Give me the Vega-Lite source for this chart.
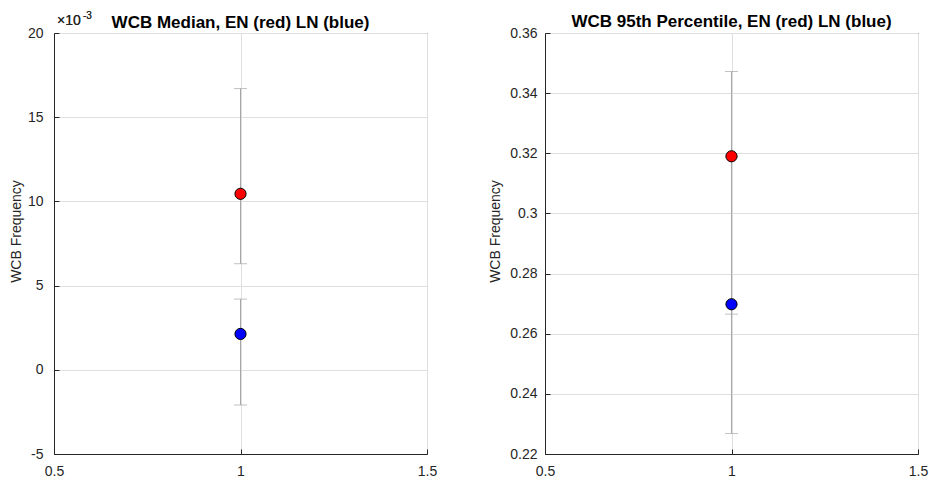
{
  "$schema": "https://vega.github.io/schema/vega-lite/v6.json",
  "background": "white",
  "padding": {"left": 8, "top": 10, "right": 10, "bottom": 0},
  "bounds": "flush",
  "spacing": 118,
  "config": {
    "font": "Liberation Sans",
    "view": {"stroke": "#262626", "strokeWidth": 1},
    "axis": {
      "domainColor": "#262626",
      "tickColor": "#262626",
      "labelColor": "#262626",
      "titleColor": "#262626",
      "labelFont": "Liberation Sans",
      "titleFont": "Liberation Sans",
      "labelFontSize": 14,
      "titleFontSize": 14,
      "titleFontWeight": "normal",
      "gridColor": "#dfdfdf",
      "gridWidth": 1,
      "tickSize": -5,
      "labelPadding": 15
    },
    "title": {"font": "Liberation Sans", "fontSize": 17, "fontWeight": "bold", "color": "#000000"}
  },
  "datasets": {
    "median": [
      {"group": "EN", "value": 0.01045, "lo": 0.0063, "hi": 0.0167},
      {"group": "LN", "value": 0.00213, "lo": -0.00209, "hi": 0.0042}
    ],
    "p95": [
      {"group": "EN", "value": 0.3190, "lo": 0.2665, "hi": 0.3472},
      {"group": "LN", "value": 0.2698, "lo": 0.2268, "hi": 0.3188}
    ]
  },
  "hconcat": [
    {
      "width": 373,
      "height": 421,
      "title": {"text": "WCB Median, EN (red) LN (blue)", "offset": -21},
      "data": {"name": "median"},
      "encoding": {
        "x": {"datum": 1, "type": "quantitative",
          "scale": {"domain": [0.5, 1.5], "nice": false, "zero": false},
          "axis": {"title": null, "values": [0.5, 1, 1.5], "labelExpr": "'' + datum.value", "labelFlush": false, "grid": true}}
      },
      "layer": [
        {
          "mark": {"type": "rule", "color": "#a6a6a6", "strokeWidth": 1},
          "encoding": {
            "y": {"field": "lo", "type": "quantitative",
              "scale": {"domain": [-0.005, 0.02], "nice": false, "zero": false},
              "axis": {"title": "WCB Frequency", "values": [-0.005, 0, 0.005, 0.01, 0.015, 0.02],
                "labelExpr": "'' + round(datum.value*1000)", "titlePadding": 4, "labelPadding": 16, "titleY": 198, "grid": true}},
            "y2": {"field": "hi"}
          }
        },
        {
          "mark": {"type": "tick", "orient": "horizontal", "color": "#a6a6a6", "size": 13, "thickness": 1},
          "encoding": {"y": {"field": "lo", "type": "quantitative", "title": "WCB Frequency"}}
        },
        {
          "mark": {"type": "tick", "orient": "horizontal", "color": "#a6a6a6", "size": 13, "thickness": 1},
          "encoding": {"y": {"field": "hi", "type": "quantitative", "title": "WCB Frequency"}}
        },
        {
          "mark": {"type": "point", "shape": "circle", "filled": true, "size": 125, "stroke": "#000000", "strokeWidth": 1, "opacity": 1},
          "encoding": {
            "y": {"field": "value", "type": "quantitative", "title": "WCB Frequency"},
            "fill": {"field": "group", "type": "nominal", "scale": {"domain": ["EN", "LN"], "range": ["#ff0000", "#0000ff"]}, "legend": null}
          }
        },
        {
          "mark": {"type": "text", "text": "×10", "align": "left", "baseline": "alphabetic", "dx": 3, "dy": -8, "fontSize": 14, "color": "#262626"},
          "encoding": {"x": {"datum": 0.5, "type": "quantitative"}, "y": {"datum": 0.02, "type": "quantitative", "title": "WCB Frequency"}}
        },
        {
          "mark": {"type": "text", "text": "-3", "align": "left", "baseline": "alphabetic", "dx": 29, "dy": -14, "fontSize": 10, "color": "#262626"},
          "encoding": {"x": {"datum": 0.5, "type": "quantitative"}, "y": {"datum": 0.02, "type": "quantitative", "title": "WCB Frequency"}}
        }
      ]
    },
    {
      "width": 373,
      "height": 421,
      "title": {"text": "WCB 95th Percentile, EN (red) LN (blue)", "offset": -5},
      "data": {"name": "p95"},
      "encoding": {
        "x": {"datum": 1, "type": "quantitative",
          "scale": {"domain": [0.5, 1.5], "nice": false, "zero": false},
          "axis": {"title": null, "values": [0.5, 1, 1.5], "labelExpr": "'' + datum.value", "labelFlush": false, "grid": true}}
      },
      "layer": [
        {
          "mark": {"type": "rule", "color": "#a6a6a6", "strokeWidth": 1},
          "encoding": {
            "y": {"field": "lo", "type": "quantitative",
              "scale": {"domain": [0.22, 0.36], "nice": false, "zero": false},
              "axis": {"title": "WCB Frequency", "values": [0.22, 0.24, 0.26, 0.28, 0.3, 0.32, 0.34, 0.36],
                "labelExpr": "'' + round(datum.value*100)/100", "titlePadding": 7, "labelPadding": 13, "titleY": 198, "grid": true}},
            "y2": {"field": "hi"}
          }
        },
        {
          "mark": {"type": "tick", "orient": "horizontal", "color": "#a6a6a6", "size": 13, "thickness": 1},
          "encoding": {"y": {"field": "lo", "type": "quantitative", "title": "WCB Frequency"}}
        },
        {
          "mark": {"type": "tick", "orient": "horizontal", "color": "#a6a6a6", "size": 13, "thickness": 1},
          "encoding": {"y": {"field": "hi", "type": "quantitative", "title": "WCB Frequency"}}
        },
        {
          "mark": {"type": "point", "shape": "circle", "filled": true, "size": 125, "stroke": "#000000", "strokeWidth": 1, "opacity": 1},
          "encoding": {
            "y": {"field": "value", "type": "quantitative", "title": "WCB Frequency"},
            "fill": {"field": "group", "type": "nominal", "scale": {"domain": ["EN", "LN"], "range": ["#ff0000", "#0000ff"]}, "legend": null}
          }
        }
      ]
    }
  ]
}
